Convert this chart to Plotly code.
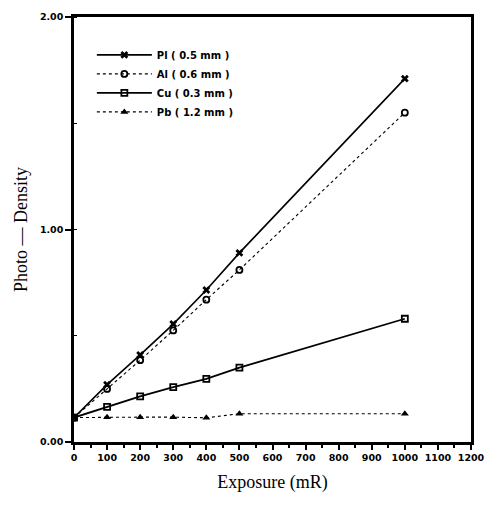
import plotly.graph_objects as go

exposure = [0, 100, 200, 300, 400, 500, 1000]
pl_vals = [0.115, 0.27, 0.41, 0.555, 0.715, 0.89, 1.71]
al_vals = [0.115, 0.25, 0.385, 0.525, 0.67, 0.81, 1.55]
cu_vals = [0.115, 0.165, 0.215, 0.258, 0.297, 0.35, 0.58]
pb_vals = [0.115, 0.117, 0.117, 0.117, 0.114, 0.133, 0.133]

names = ["Pl ( 0.5 mm )", "Al ( 0.6 mm )", "Cu ( 0.3 mm )", "Pb ( 1.2 mm )"]
x_ticks = list(range(0, 1300, 100))
y_ticks = [0, 1, 2]
y_tick_labels = ["0.00", "1.00", "2.00"]

fig = go.Figure()
styles = [
    (pl_vals, dict(color="black", width=1.6, dash="solid"), dict(symbol="x", size=7, color="black")),
    (al_vals, dict(color="black", width=1.1, dash="dot"), dict(symbol="circle-open", size=6, color="black", line=dict(width=1.8))),
    (cu_vals, dict(color="black", width=1.8, dash="solid"), dict(symbol="square-open", size=6, color="black", line=dict(width=1.8))),
    (pb_vals, dict(color="black", width=1.1, dash="dot"), dict(symbol="triangle-up", size=7, color="black")),
]
for name, (vals, line, marker) in zip(names, styles):
    fig.add_trace(go.Scatter(x=exposure, y=vals, mode="lines+markers", name=name,
                             line=line, marker=marker))

tickfont = dict(family="DejaVu Sans", size=9.5, color="black", weight="bold")
fig.update_layout(
    width=496, height=506,
    margin=dict(l=74, r=23, t=11, b=64),
    paper_bgcolor="white", plot_bgcolor="white",
    showlegend=True,
    legend=dict(x=0.045, y=0.945, xanchor="left", yanchor="top",
                bgcolor="rgba(0,0,0,0)", tracegroupgap=0, itemwidth=55,
                font=dict(family="DejaVu Sans", size=10, color="black", weight="bold")),
    xaxis=dict(range=[0, 1200], tickmode="array", tickvals=x_ticks,
               showgrid=False, zeroline=False, showline=True, linecolor="black",
               linewidth=2.5, mirror=True, ticks="outside", ticklen=5, tickwidth=2,
               tickcolor="black", tickfont=tickfont,
               minor=dict(dtick=50, ticks="outside", ticklen=3, tickwidth=1.5, tickcolor="black"),
               title=dict(text="Exposure (mR)", font=dict(family="Liberation Serif", size=18, color="black"),
                          standoff=14)),
    yaxis=dict(range=[0, 2], tickmode="array", tickvals=y_ticks, ticktext=y_tick_labels,
               showgrid=False, zeroline=False, showline=True, linecolor="black",
               linewidth=2.5, mirror=True, ticks="outside", ticklen=6, tickwidth=2,
               tickcolor="black", tickfont=tickfont,
               minor=dict(dtick=0.5, ticks="inside", ticklen=3, tickwidth=1, tickcolor="black"),
               title=dict(text="Photo — Density", font=dict(family="Liberation Serif", size=18, color="black"),
                          standoff=8)),
)

fig.write_html("out.html", config={"displayModeBar": False},
               post_script="document.body.style.margin='0';")
